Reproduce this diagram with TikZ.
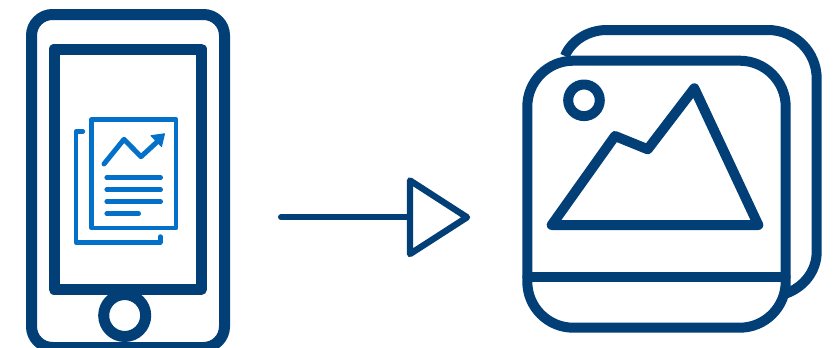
\documentclass[tikz,border=0pt]{standalone}
\definecolor{navy}{HTML}{033F77}
\definecolor{docblue}{HTML}{0371C9}
\tikzset{
  dark/.style={draw=navy,line width=#1,line join=round,line cap=round},
  dark/.default=10pt,
  doc/.style={draw=docblue,line width=#1,line join=round,line cap=round},
  doc/.default=4.4pt
}
\begin{document}
\begin{tikzpicture}[x=1pt,y=-1pt]
\useasboundingbox (0,0) rectangle (839,348);
\begin{scope}
\clip (0,0) rectangle (839,348);
% phone
\draw[dark=11pt,rounded corners=21pt] (31.5,14.5) rectangle (224.5,347.5);
\draw[dark=11pt] (54.3,49) rectangle (201.5,289.5);
\draw[dark=11pt,fill=white] (124.7,315.5) circle (21);
\end{scope}
% document
\draw[doc] (91.5,119.3) rectangle (176,228);
\draw[doc=4.4pt] (83,131.5) -- (75.7,131.5) -- (75.7,242.5) -- (160.3,242.5) -- (160.3,236.5);
\draw[doc=5pt] (104,164) -- (124,139.3) -- (141,156.7) -- (157,142);
\fill[docblue,draw=docblue,line width=1pt,line join=round] (151,135.7) -- (164.5,133.8) -- (161.5,146.5) -- cycle;
\draw[doc=4.6pt] (106.7,177.7) -- (160.7,177.7);
\draw[doc=4.6pt] (106.7,189.7) -- (160.7,189.7);
\draw[doc=4.6pt] (106.7,201.7) -- (160.7,201.7);
\draw[doc=4.6pt] (106.7,213.7) -- (138.7,213.7);
% arrow
\draw[dark=6pt] (281,217.3) -- (410,217.3);
\draw[dark=6.4pt] (410,180.5) -- (467,217.3) -- (410,254) -- cycle;
% images
\draw[dark=10pt,line cap=butt] (565,56) .. controls (571,41) and (588,30) .. (606.7,30) -- (768,30)
  .. controls (795,30) and (816.7,52) .. (816.7,78.7) -- (816.7,251.7)
  .. controls (816.7,271) and (804,287) .. (786,293.5);
\draw[dark=10pt,rounded corners=46pt] (527.3,60.7) rectangle (785.7,327.7);
\draw[dark=10pt] (527.3,276.7) -- (785.7,276.7);
\draw[dark=10pt] (584,100.3) circle (15.8);
\draw[dark=10pt] (551.7,225) -- (758.3,225) -- (694.3,88.3) -- (647.7,149.3) -- (615,136) -- cycle;
\end{tikzpicture}
\end{document}
